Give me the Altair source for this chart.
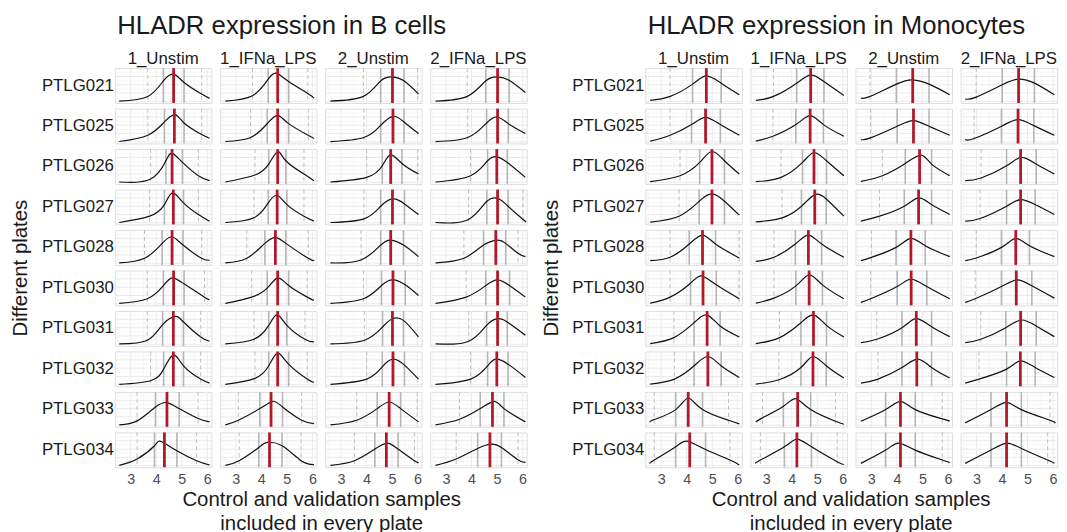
import altair as alt
import pandas as pd

FONT = "Liberation Sans"

PLATES = ["PTLG021", "PTLG025", "PTLG026", "PTLG027", "PTLG028",
          "PTLG030", "PTLG031", "PTLG032", "PTLG033", "PTLG034"]
CONDS = ["1_Unstim", "1_IFNa_LPS", "2_Unstim", "2_IFNa_LPS"]

X_BREAKS = [3, 4, 5, 6]
X_MINOR = [2.5, 3.5, 4.5, 5.5]
Y_MAJOR = [0, 25, 50, 75]
Y_MINOR = [12.5, 37.5, 62.5, 87.5]

# ---------------- B cells ----------------
B_XMIN = [2.55, 2.59, 2.59, 2.59]
B_XMAX = [6.09, 6.06, 6.04, 6.11]
B_MED = [[4.68, 4.64, 5.02, 5.02], [4.71, 4.64, 5.04, 5.02], [4.62, 4.64, 4.95, 4.99],
         [4.67, 4.62, 5.02, 5.02], [4.62, 4.55, 4.95, 4.95], [4.68, 4.64, 5.04, 5.02],
         [4.67, 4.64, 5.02, 5.02], [4.67, 4.64, 5.04, 4.99], [4.42, 4.38, 4.89, 4.82],
         [4.32, 4.32, 4.78, 4.72]]
B_Q1 = [[4.28, 4.27, 4.56, 4.56], [4.32, 4.23, 4.56, 4.59], [4.38, 4.29, 4.62, 4.63],
        [4.32, 4.27, 4.56, 4.60], [4.23, 4.14, 4.56, 4.47], [4.28, 4.23, 4.59, 4.56],
        [4.25, 4.29, 4.63, 4.59], [4.29, 4.29, 4.62, 4.63], [3.97, 3.94, 4.42, 4.34],
        [3.93, 3.90, 4.33, 4.24]]
B_Q3 = [[5.09, 5.07, 5.47, 5.47], [5.09, 5.07, 5.47, 5.44], [5.03, 4.96, 5.39, 5.40],
        [5.07, 5.00, 5.49, 5.43], [5.05, 4.96, 5.45, 5.34], [5.09, 5.07, 5.52, 5.49],
        [5.07, 5.00, 5.45, 5.40], [5.07, 5.07, 5.49, 5.43], [4.90, 4.83, 5.34, 5.27],
        [4.81, 4.81, 5.24, 5.17]]
B_DLO = [[3.67, 3.65, 3.88, 3.83], [3.67, 3.58, 3.90, 3.85], [3.78, 3.75, 4.01, 3.96],
         [3.74, 3.71, 3.90, 3.88], [3.54, 3.43, 3.79, 3.70], [3.65, 3.62, 3.88, 3.79],
         [3.65, 3.71, 3.92, 3.89], [3.78, 3.75, 4.01, 3.96], [3.25, 3.10, 3.62, 3.53],
         [3.25, 3.13, 3.53, 3.40]]
B_DHI = [[5.78, 5.82, 6.01, None], [5.78, 5.84, None, None], [5.65, 5.67, 6.01, None],
         [5.65, 5.67, None, 6.02], [5.78, 5.84, None, 5.82], [5.89, 5.80, None, None],
         [5.74, 5.71, None, None], [5.74, 5.80, None, None], [5.64, 5.58, 5.99, None],
         [5.58, 5.56, 5.88, 5.82]]
B_PEAK = [[4.68, 4.59, 5.02, 5.02], [4.74, 4.64, 5.04, 5.02], [4.62, 4.64, 4.95, 4.99],
          [4.64, 4.62, 5.04, 5.08], [4.62, 4.55, 4.95, 5.02], [4.62, 4.64, 5.04, 5.02],
          [4.74, 4.62, 5.02, 5.02], [4.67, 4.64, 5.04, 4.95], [4.42, 4.45, 4.89, 4.89],
          [4.19, 4.23, 4.82, 4.76]]
# density read at [start, low dash, Q1, peak, Q3, high dash, end]
B_DENS = [
    [[1, 15, 62, 82, 57, 22, 9], [1, 17, 67, 85, 60, 24, 10], [1, 15, 62, 74, 62, 24, 22], [1, 15, 62, 74, 64, None, 27]],
    [[1, 20, 60, 82, 57, 22, 11], [1, 13, 55, 80, 55, 20, 10], [1, 13, 50, 77, 60, None, 25], [1, 13, 57, 75, 55, None, 25]],
    [[1, 10, 65, 88, 60, 20, 5], [1, 22, 55, 93, 65, 25, 5], [1, 15, 50, 83, 57, 25, 25], [1, 20, 65, 77, 60, None, 15]],
    [[1, 20, 55, 90, 60, 25, 5], [1, 15, 60, 83, 55, 20, 5], [1, 12, 50, 72, 57, None, 25], [1, 10, 65, 72, 50, 10, 5]],
    [[1, 15, 60, 80, 55, 15, 10], [1, 15, 60, 78, 60, 15, 10], [1, 10, 55, 70, 55, None, 20], [1, 15, 55, 70, 60, 30, 20]],
    [[1, 15, 55, 78, 60, 20, 12], [1, 20, 47, 78, 55, 20, 10], [1, 15, 55, 72, 57, None, 25], [1, 20, 55, 72, 55, None, 20]],
    [[1, 12, 59, 84, 67, 22, 9], [1, 15, 57, 89, 57, 15, 7], [1, 12, 52, 77, 72, None, 22], [1, 9, 57, 77, 67, None, 27]],
    [[1, 12, 47, 90, 57, 17, 5], [1, 19, 57, 95, 62, 17, 7], [1, 17, 54, 77, 59, None, 17], [1, 17, 57, 77, 62, None, 22]],
    [[1, 13, 55, 68, 50, 20, 10], [1, 15, 50, 72, 55, 15, 5], [1, 15, 50, 70, 50, 10, 10], [1, 18, 50, 72, 50, None, 10]],
    [[1, 20, 60, 73, 45, 15, 2], [1, 15, 55, 70, 60, 15, 3], [1, 15, 50, 68, 50, 15, 10], [1, 20, 52, 65, 55, 18, 10]],
]

# ---------------- Monocytes ----------------
M_XMIN = [2.57, 2.59, 2.59, 2.56]
M_XMAX = [6.06, 6.04, 6.07, 6.05]
M_MED = [[4.77, 4.74, 4.62, 4.65], [4.74, 4.72, 4.65, 4.63], [4.99, 4.87, 4.89, 4.73],
         [4.99, 4.90, 4.85, 4.73], [4.62, 4.65, 4.55, 4.54], [4.64, 4.68, 4.56, 4.56],
         [4.80, 4.85, 4.76, 4.73], [4.83, 4.83, 4.78, 4.72], [4.06, 4.23, 4.14, 4.18],
         [4.12, 4.20, 4.14, 4.18]]
M_Q1 = [[4.23, 4.19, 3.98, 4.01], [4.19, 4.16, 4.01, 3.98], [4.51, 4.42, 4.33, 4.18],
        [4.49, 4.38, 4.29, 4.18], [4.10, 4.14, 3.97, 3.98], [4.15, 4.16, 4.01, 3.98],
        [4.29, 4.36, 4.20, 4.15], [4.29, 4.36, 4.20, 4.18], [3.57, 3.67, 3.56, 3.57],
        [3.57, 3.71, 3.56, 3.57]]
M_Q3 = [[5.35, 5.26, 5.26, 5.27], [5.32, 5.24, 5.26, 5.25], [5.48, 5.36, 5.36, 5.34],
        [5.48, 5.35, 5.36, 5.30], [5.13, 5.17, 5.11, 5.08], [5.16, 5.20, 5.17, 5.17],
        [5.31, 5.36, 5.36, 5.34], [5.35, 5.35, 5.36, 5.30], [4.62, 4.74, 4.72, 4.76],
        [4.74, 4.77, 4.72, 4.76]]
M_DLO = [[3.35, 3.28, 2.95, 2.99], [3.35, 3.26, 2.97, 2.91], [3.74, 3.58, 3.43, 3.18],
         [3.70, 3.62, 3.32, 3.14], [3.35, 3.30, 3.00, 2.99], [3.35, 3.30, 2.97, 2.95],
         [3.50, 3.52, 3.21, 3.17], [3.52, 3.49, 3.26, 3.10], [2.73, 2.85, None, None],
         [2.73, 2.77, None, None]]
M_DHI = [[None, None, None, None], [None, None, None, None], [None, None, None, None],
         [None, None, None, None], [6.06, None, None, None], [6.06, None, None, None],
         [None, None, None, None], [None, None, None, None], [5.64, 5.71, 5.78, 5.88],
         [5.70, 5.78, 5.78, 5.79]]
M_PEAK = [[4.77, 4.74, 4.62, 4.65], [4.74, 4.72, 4.65, 4.63], [4.99, 4.87, 4.95, 4.76],
          [4.99, 4.90, 4.85, 4.73], [4.62, 4.65, 4.55, 4.54], [4.58, 4.68, 4.56, 4.60],
          [4.80, 4.87, 4.76, 4.76], [4.83, 4.83, 4.82, 4.72], [4.06, 4.16, 4.14, 4.18],
          [4.02, 4.20, 4.07, 4.18]]
M_DENS = [
    [[3, 15, 52, 77, 55, None, 20], [3, 15, 55, 80, 60, None, 18], [10, 15, 52, 65, 52, None, 20], [7, 13, 50, 67, 55, None, 20]],
    [[2, 20, 52, 74, 52, None, 20], [2, 17, 52, 79, 52, None, 17], [7, 12, 47, 64, 47, None, 20], [7, 10, 47, 67, 49, None, 20]],
    [[2, 20, 60, 93, 65, None, 25], [2, 15, 60, 90, 65, None, 20], [3, 20, 57, 82, 55, None, 20], [5, 13, 50, 75, 55, None, 25]],
    [[2, 20, 65, 87, 65, None, 23], [3, 15, 50, 85, 72, None, 20], [5, 20, 50, 75, 55, None, 25], [5, 13, 50, 70, 55, None, 25]],
    [[8, 18, 58, 85, 58, 16, 16], [6, 18, 58, 85, 58, None, 18], [8, 18, 48, 75, 53, None, 20], [8, 16, 48, 75, 53, None, 20]],
    [[2, 20, 62, 84, 57, 15, 15], [2, 17, 54, 87, 57, None, 15], [4, 15, 52, 74, 52, None, 15], [4, 15, 52, 72, 54, None, 17]],
    [[2, 20, 65, 88, 55, None, 22], [2, 20, 65, 88, 57, None, 22], [5, 15, 50, 77, 53, None, 23], [5, 15, 50, 73, 55, None, 23]],
    [[2, 17, 57, 85, 57, None, 22], [2, 15, 52, 85, 57, None, 20], [5, 17, 52, 77, 52, None, 20], [5, 17, 47, 72, 52, None, 22]],
    [[9, 17, 47, 82, 47, 15, 4], [9, 22, 57, 80, 47, 12, 3], [12, None, 47, 72, 47, 19, 12], [7, None, 47, 69, 47, 15, 7]],
    [[7, 17, 57, 74, 49, 17, 2], [7, 17, 57, 80, 57, 12, 4], [7, None, 47, 68, 47, 17, 9], [7, None, 47, 68, 52, 17, 7]],
]


def build(xmin, xmax, med, q1, q3, dlo, dhi, peak, dens):
    rows = []
    for r, plate in enumerate(PLATES):
        for c, cond in enumerate(CONDS):
            h = dens[r][c]
            pts = [(xmin[c], h[0])]
            if dlo[r][c] is not None and h[1] is not None and dlo[r][c] > xmin[c] + 0.05:
                pts.append((dlo[r][c], h[1]))
            pts.append((q1[r][c], h[2]))
            pts.append((peak[r][c], h[3]))
            pts.append((q3[r][c], h[4]))
            if dhi[r][c] is not None and h[5] is not None and dhi[r][c] < xmax[c] - 0.08:
                pts.append((dhi[r][c], h[5]))
            pts.append((xmax[c], h[6]))
            pts.sort()
            base = {"plate": plate, "cond": cond}
            for i, (x, y) in enumerate(pts):
                rows.append({**base, "kind": "curve", "x": x, "y": y, "i": i})
            rows.append({**base, "kind": "med", "x": med[r][c]})
            rows.append({**base, "kind": "quart", "x": q1[r][c]})
            rows.append({**base, "kind": "quart", "x": q3[r][c]})
            for v in (dlo[r][c], dhi[r][c]):
                if v is not None:
                    rows.append({**base, "kind": "dash", "x": v})
            for v in X_BREAKS:
                rows.append({**base, "kind": "vmaj", "x": v})
            for v in X_MINOR:
                rows.append({**base, "kind": "vmin", "x": v})
            for v in Y_MAJOR:
                rows.append({**base, "kind": "hmaj", "y": v})
            for v in Y_MINOR:
                rows.append({**base, "kind": "hmin", "y": v})
    return pd.DataFrame(rows)


def panel(df, title):
    xs = alt.Scale(domain=[2.38, 6.16], nice=False, zero=False)
    ys = alt.Scale(domain=[-4.8, 100.2], nice=False, zero=False)
    xax = alt.Axis(values=X_BREAKS, grid=False, ticks=False, domain=False,
                   labelFontSize=14.5, labelColor="#4D4D4D", labelPadding=5,
                   labelFont=FONT, title=None)
    X = alt.X("x:Q", scale=xs, axis=xax)
    Y = alt.Y("y:Q", scale=ys, axis=None)
    base = alt.Chart()

    def f(k):
        return alt.datum.kind == k

    vmin = base.mark_rule(color="#F3F3F3", strokeWidth=0.7).encode(x=X).transform_filter(f("vmin"))
    vmaj = base.mark_rule(color="#EAEAEA", strokeWidth=1).encode(x=X).transform_filter(f("vmaj"))
    hmin = base.mark_rule(color="#F3F3F3", strokeWidth=0.7).encode(y=Y).transform_filter(f("hmin"))
    hmaj = base.mark_rule(color="#EAEAEA", strokeWidth=1).encode(y=Y).transform_filter(f("hmaj"))
    dash = base.mark_rule(color="#BDBDBD", strokeWidth=1, strokeDash=[4, 3]).encode(x=X).transform_filter(f("dash"))
    quart = base.mark_rule(color="#B5B5B5", strokeWidth=1.6).encode(x=X).transform_filter(f("quart"))
    curve = base.mark_line(color="#111111", strokeWidth=1.2, interpolate="natural").encode(
        x=X, y=Y, order="i:Q").transform_filter(f("curve"))
    med = base.mark_rule(color="#B2182B", strokeWidth=2.8).encode(x=X).transform_filter(f("med"))

    layered = alt.layer(vmin, vmaj, hmin, hmaj, dash, quart, curve, med, data=df).properties(
        width=97.5, height=35.2)

    row = alt.Row("plate:N", sort=PLATES, header=alt.Header(
        title="Different plates", titleOrient="left", titleFontSize=20.6, titleFont=FONT,
        titleFontWeight="normal", titleColor="#1A1A1A", titlePadding=0,
        labelOrient="left", labelAngle=0, labelAlign="left",
        labelFontSize=17, labelFont=FONT, labelColor="#1A1A1A", labelPadding=1))
    col = alt.Column("cond:N", sort=CONDS, header=alt.Header(
        title=["Control and validation samples", "included in every plate"],
        titleOrient="bottom", titleFontSize=20.6, titleFont=FONT, titleFontWeight="normal",
        titleColor="#1A1A1A", titleLineHeight=25, titlePadding=-7,
        labelOrient="top", labelFontSize=17, labelFont=FONT,
        labelColor="#1A1A1A", labelPadding=0))
    return layered.facet(row=row, column=col, spacing={"row": 4.9, "column": 8.2},
                         bounds="flush").properties(
        title=alt.TitleParams(text=title, anchor="start", fontSize=26, dx=107,
                              fontWeight="normal", font=FONT, color="#1A1A1A", offset=12))


left = panel(build(B_XMIN, B_XMAX, B_MED, B_Q1, B_Q3, B_DLO, B_DHI, B_PEAK, B_DENS),
             "HLADR expression in B cells")
right = panel(build(M_XMIN, M_XMAX, M_MED, M_Q1, M_Q3, M_DLO, M_DHI, M_PEAK, M_DENS),
              "HLADR expression in Monocytes")

chart = alt.hconcat(left, right, spacing=12).properties(
    padding={"left": 3, "top": 2, "right": 0, "bottom": 0}).configure_view(
    stroke=None).configure(font=FONT, background="white")

chart.save("out.html", embed_options={"renderer": "svg", "actions": False})
